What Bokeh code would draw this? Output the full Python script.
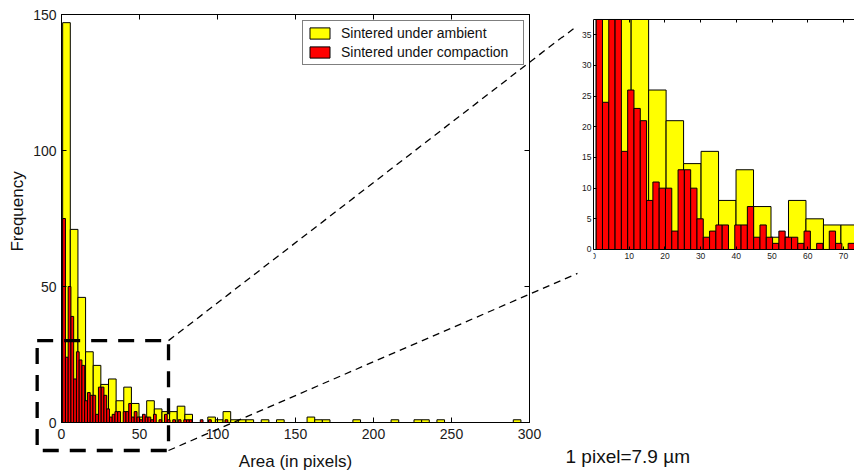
import numpy as np
from math import pi
from bokeh.plotting import figure
from bokeh.layouts import row
from bokeh.models import (Range1d, LinearAxis, FixedTicker, Legend, LegendItem,
                          ColumnDataSource)
from bokeh.core.properties import value
from bokeh.embed import file_html
from bokeh.resources import INLINE

# ---------------- data ----------------
# histogram of particle areas, 60 bins each
yellow_counts = [147, 71, 46, 26, 21, 14, 16, 8, 13, 7, 2, 8, 5, 4, 4,
                 6, 3, 0, 0, 2, 1, 4, 1, 1, 1, 0, 1, 0, 1, 0,
                 0, 0, 2, 1, 1, 0, 0, 0, 1, 0, 0, 0, 0, 1, 0,
                 0, 1, 1, 0, 1, 0, 0, 0, 0, 0, 0, 0, 0, 0, 1]
red_counts = [75, 24, 50, 39, 16, 26, 23, 21, 8, 11,
              10, 10, 3, 13, 13, 10, 5, 2, 3, 4,
              4, 0, 4, 4, 7, 2, 4, 2, 1, 3,
              2, 2, 1, 3, 0, 1, 0, 3, 1, 0,
              1, 0, 1, 0, 1, 1, 1, 0, 0, 0,
              1, 0, 0, 1, 0, 0, 0, 0, 0, 1]
yellow_area_range = (0.75, 294.5)   # min / max area of the ambient sample
red_area_range = (0.75, 106.6)      # min / max area of the compacted sample

series_labels = ["Sintered under ambient", "Sintered under compaction"]
x_label = "Area (in pixels)"
y_label = "Frequency"
scale_note = "1 pixel=7.9 µm"

main_x_ticks = [0, 50, 100, 150, 200, 250, 300]
main_y_ticks = [0, 50, 100, 150]
inset_x_ticks = [0, 10, 20, 30, 40, 50, 60, 70]
inset_y_ticks = [0, 5, 10, 15, 20, 25, 30, 35]
inset_y_max = 37.5

# zoom box drawn on the main plot (main data units) and connector ends
zoom_box = dict(x0=-15.6, x1=68.6, y0=-10.3, y1=30.1)
conn_main = [([68.6, 328.2], [30.1, 144.9]), ([68.6, 330.8], [-10.3, 54.8])]
conn_inset = [([-119.0, -5.6], [-14.8, 36.0]), ([-119.0, -4.5], [-32.8, -3.9])]

FONT = "Liberation Sans"
YELLOW = "#ffff00"
RED = "#ff0000"


def hist_source(rng, counts, cap=None):
    edges = np.linspace(rng[0], rng[1], len(counts) + 1)
    centers = (edges[:-1] + edges[1:]) / 2
    top = np.asarray(counts, dtype=float)
    if cap is not None:          # the inset only shows up to its top edge
        top = np.minimum(top, cap)
    return ColumnDataSource(dict(x=centers, top=top)), edges[1] - edges[0]


ysrc, yw = hist_source(yellow_area_range, yellow_counts)
rsrc, rw = hist_source(red_area_range, red_counts)
ysrc_in, _ = hist_source(yellow_area_range, yellow_counts, inset_y_max)
rsrc_in, _ = hist_source(red_area_range, red_counts, inset_y_max)


def style_axis(ax, size, standoff, tick_in, show_labels=True):
    ax.major_tick_in = tick_in
    ax.major_tick_out = 0
    ax.minor_tick_line_color = None
    ax.axis_line_color = "black"
    ax.axis_line_width = 1
    ax.major_tick_line_color = "black"
    ax.major_label_text_font = FONT
    ax.major_label_text_font_size = size
    ax.major_label_text_color = "#1a1a1a" if show_labels else None
    if not show_labels:
        ax.major_label_text_alpha = 0
    ax.major_label_standoff = standoff


def add_text(fig, x, y, txt, size, align="left", baseline="alphabetic", angle=0.0):
    fig.text(x=[x], y=[y], text=[txt], angle=angle, text_align=align,
             text_baseline=baseline, text_font=value(FONT),
             text_font_size=value(size), text_color="#111111", level="overlay")


# ---------------- main histogram ----------------
p = figure(frame_width=468, frame_height=408,
           x_range=Range1d(0, 300), y_range=Range1d(0, 150),
           min_border_left=61, min_border_right=33,
           min_border_top=14, min_border_bottom=50,
           output_backend="svg", toolbar_location=None)
p.grid.visible = False
p.outline_line_color = "black"
p.outline_line_width = 1
p.background_fill_color = "white"
p.border_fill_color = "white"

p.xaxis.ticker = FixedTicker(ticks=main_x_ticks)
p.yaxis.ticker = FixedTicker(ticks=main_y_ticks)
for ax in p.xaxis:
    style_axis(ax, "14px", 6, 5)
for ax in p.yaxis:
    style_axis(ax, "14px", 5, 5)

top_ax = LinearAxis(ticker=FixedTicker(ticks=main_x_ticks))
right_ax = LinearAxis(ticker=FixedTicker(ticks=main_y_ticks))
for ax in (top_ax, right_ax):
    style_axis(ax, "1px", 0, 5, show_labels=False)
p.add_layout(top_ax, "above")
p.add_layout(right_ax, "right")

ry = p.vbar(x="x", top="top", bottom=0, width=yw, source=ysrc,
            fill_color=YELLOW, line_color="black", line_width=1)
rr = p.vbar(x="x", top="top", bottom=0, width=rw, source=rsrc,
            fill_color=RED, line_color="black", line_width=1)

legend = Legend(items=[LegendItem(label=series_labels[0], renderers=[ry]),
                       LegendItem(label=series_labels[1], renderers=[rr])],
                location=(241, 357), margin=0, padding=4, spacing=3,
                glyph_width=25, glyph_height=14, label_height=14,
                label_width=178, label_standoff=9, label_text_font=FONT,
                label_text_font_size="14px", label_text_color="#111111",
                border_line_color="black", border_line_width=1,
                background_fill_color="white", background_fill_alpha=1)
p.add_layout(legend)

# dashed zoom box and connectors (drawn un-clipped)
bx = [zoom_box["x0"], zoom_box["x1"], zoom_box["x1"], zoom_box["x0"], zoom_box["x0"]]
by = [zoom_box["y1"], zoom_box["y1"], zoom_box["y0"], zoom_box["y0"], zoom_box["y1"]]
p.line(bx, by, line_color="black", line_width=3.3, line_dash="16 11", level="overlay")
for xs, ys in conn_main:
    p.line(xs, ys, line_color="black", line_width=1.3, line_dash="7 5", level="overlay")

add_text(p, -27.9, 77.6, y_label, "17px", align="center", baseline="middle", angle=pi / 2)
add_text(p, 150, -14.3, x_label, "17px", align="center")

# ---------------- inset (zoom of 0-70) ----------------
# same frame height/borders as the main plot (row aligns frames); the visible
# inset box spans y = 0 .. inset_y_max inside it
q = figure(frame_width=261, frame_height=408,
           x_range=Range1d(0, 73.09), y_range=Range1d(-28.21, 38.315),
           min_border_left=31, min_border_right=0,
           min_border_top=14, min_border_bottom=50,
           output_backend="svg", toolbar_location=None)
q.grid.visible = False
q.outline_line_color = None
q.background_fill_color = "white"
q.border_fill_color = "white"
q.xaxis.ticker = FixedTicker(ticks=inset_x_ticks)
q.yaxis.ticker = FixedTicker(ticks=inset_y_ticks)
for ax in q.xaxis:
    style_axis(ax, "8.5px", 4, 3)
    ax.fixed_location = 0
for ax in q.yaxis:
    style_axis(ax, "8.5px", 2, 3)
    ax.bounds = (0, inset_y_max)
q_top = LinearAxis(ticker=FixedTicker(ticks=inset_x_ticks), fixed_location=inset_y_max)
style_axis(q_top, "1px", 0, 3, show_labels=False)
q.add_layout(q_top, "above")

q.vbar(x="x", top="top", bottom=0, width=yw, source=ysrc_in,
       fill_color=YELLOW, line_color="black", line_width=1)
q.vbar(x="x", top="top", bottom=0, width=rw, source=rsrc_in,
       fill_color=RED, line_color="black", line_width=1)
for xs, ys in conn_inset:
    q.line(xs, ys, line_color="black", line_width=1.3, line_dash="7 5", level="overlay")

add_text(q, -7.84, -33.7, scale_note, "19px")

layout = row(p, q)
open("out.html", "w").write(file_html(layout, INLINE))
